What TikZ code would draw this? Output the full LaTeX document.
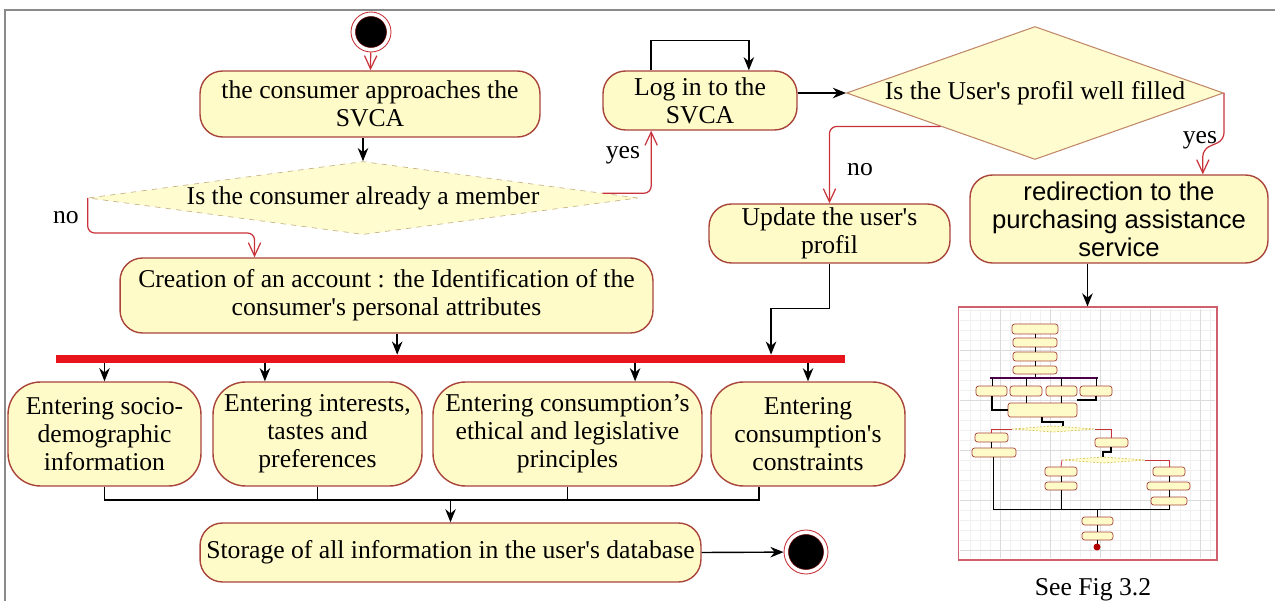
\documentclass[tikz,border=0pt]{standalone}
\usepackage{fontspec}
\setmainfont{Liberation Serif}
\newfontfamily\arialfont{Liberation Sans}
\usetikzlibrary{shapes.geometric,arrows.meta,calc}

\definecolor{boxfill}{HTML}{FFFBC8}
\definecolor{boxline}{HTML}{A8443A}
\definecolor{flowred}{HTML}{C8323A}
\definecolor{barred}{HTML}{E8141B}
\definecolor{dashline}{HTML}{C8B48A}
\definecolor{diafill}{HTML}{FFFCD0}
\definecolor{dialine}{HTML}{C08868}
\definecolor{framegray}{HTML}{8A8A8A}
\definecolor{thumbline}{HTML}{D0606E}
\definecolor{minidash}{HTML}{D4C050}

\newcommand{\ap}{\textquotesingle}

\begin{document}
\begin{tikzpicture}[x=0.02cm,y=-0.02cm,
    every node/.style={font=\fontsize{14.6}{15.9}\selectfont},
    action/.style={draw=boxline,fill=boxfill,line width=0.8pt,
      rounded corners=0.45cm,align=center,inner sep=2pt},
    task/.style={action,rounded corners=0.65cm,minimum height=2.08cm},
    decision/.style={diamond,fill=diafill,inner sep=0pt,align=center},
    flow/.style={line width=0.8pt,-{Stealth[length=7.5pt,width=6pt]}},
    branch/.style={draw=flowred,line width=0.7pt,rounded corners=4pt,
      -{Straight Barb[length=7.5pt,width=7pt]}},
    ring/.style={circle,draw=flowred,fill=white,line width=0.5pt,inner sep=0pt},
    minibox/.style={draw=boxline,fill=boxfill,line width=0.4pt,rounded corners=1.5pt},
    minidia/.style={draw=minidash,fill=diafill,line width=0.4pt,dash pattern=on 1pt off 1pt},
    minilink/.style={line width=0.4pt},
    minired/.style={draw=flowred,line width=0.4pt}]
  \useasboundingbox (0,0) rectangle (1275,601);

  % page frame (top and left edges only)
  \draw[framegray,line width=1.7pt] (5,601) -- (5,10) -- (1275,10);

  % start
  \node[ring,minimum size=0.8cm] (init) at (371,32) {};
  \fill[black,draw=red!40!black,line width=0.3pt] (init.center) circle (0.31cm);
  \node[action,minimum width=6.8cm,minimum height=1.32cm] (approach) at (370,104)
    {the consumer approaches the\\SVCA};
  \draw[branch] (init) -- (approach);

  % membership test
  \node[decision,draw=dashline,dashed,aspect=7.7,minimum width=11cm,minimum height=1.46cm]
    (member) at (363,198) {Is the consumer already a member};
  \draw[flow] (approach.south -| member.north) -- (member.north);

  % login and its loop
  \node[action,minimum width=3.88cm,minimum height=1.18cm] (login) at (700,100.5)
    {Log in to the\\SVCA};
  \draw[branch] ($(member.east)!0.13!(member.north)$) -| ($(login.south west)!0.25!(login.south east)$);
  \node (yes1) at (623,155) {yes};
  \draw[flow] ($(login.north west)!0.25!(login.north east)$) -- ++(0,-30)
    -| ($(login.north west)!0.75!(login.north east)$);

  % profile test
  \node[decision,draw=dialine,line width=0.6pt,aspect=3,minimum width=7.54cm,minimum height=2.66cm]
    (profile) at (1035,93) {Is the User\ap s profil well filled};
  \draw[flow] (profile.west -| login.east) -- (profile.west);

  \node[action,minimum width=4.82cm,minimum height=1.18cm] (update) at (829.5,233.5)
    {Update the user\ap s\\profil};
  \draw[branch] (profile.south west) -| (update.north);
  \node (no2) at (860,170) {no};

  \node[action,font={\arialfont\fontsize{14.6}{15.9}\selectfont},minimum width=5.96cm,minimum height=1.76cm]
    (redirect) at (1119,219) {redirection to the\\purchasing assistance\\service};
  \coordinate (yesin) at ($(redirect.north west)!0.78!(redirect.north east)$);
  \draw[branch] (profile.east) -- ++(0,47) -- ([yshift=0.5cm]yesin) -- (yesin);
  \node (yes2) at (1200,140) {yes};

  % account creation
  \node[action,minimum width=10.66cm,minimum height=1.5cm] (create) at (386.5,295.5)
    {Creation of an account : the Identification of the\\consumer\ap s personal attributes};
  \draw[branch] (member.west) -- ++(0,35) -| ($(create.north west)!0.253!(create.north east)$);
  \node (no1) at (66,218) {no};

  % fork bar
  \node[fill=barred,minimum width=15.78cm,minimum height=0.16cm,inner sep=0pt] (bar) at (450.5,359) {};
  \coordinate (forkin) at ($(create.south west)!0.52!(create.south east)$);
  \draw[flow] (forkin) -- (forkin |- bar.north);
  \coordinate (mergein) at ($(bar.north west)!0.906!(bar.north east)$);
  \draw[flow] (update.south) -- ++(0,45) -| (mergein);

  % parallel entries
  \node[task,minimum width=3.86cm] (socio) at (104.5,434) {Entering socio-\\demographic\\information};
  \node[task,minimum width=4.18cm] (tastes) at (317.5,434) {Entering interests,\\tastes and\\preferences};
  \node[task,minimum width=5.38cm] (ethics) at (567.5,434) {Entering consumption’s\\ethical and legislative\\principles};
  \node[task,minimum width=3.88cm] (constr) at (808,434) {Entering\\consumption\ap s\\constraints};
  \foreach \act/\pos in {socio/0.5,tastes/0.25,ethics/0.75,constr/0.5} {
    \coordinate (in-\act) at ($(\act.north west)!\pos!(\act.north east)$);
    \draw[flow] (bar.south -| in-\act) -- (in-\act);
  }

  % join into storage
  \node[action,minimum width=10.02cm,minimum height=1.18cm] (storage) at (450.5,552.5)
    {Storage of all information in the user\ap s database};
  \coordinate (join) at (451,500);
  \coordinate (out-constr) at ($(constr.south west)!0.25!(constr.south east)$);
  \draw[line width=0.8pt] (socio.south) |- (join -| out-constr) -- (out-constr);
  \draw[line width=0.8pt] (tastes.south) -- (tastes.south |- join);
  \draw[line width=0.8pt] (ethics.south) -- (ethics.south |- join);
  \draw[flow] (storage.north |- join) -- (storage.north);

  % end
  \node[ring,minimum size=0.88cm] (final) at (806,552) {};
  \fill[black,draw=red!40!black,line width=0.3pt] (final.center) circle (0.35cm);
  \draw[flow] (storage.east) -- (final);

  % thumbnail of the purchasing assistance chart
  \node[draw=thumbline,fill=white,line width=0.6pt,minimum width=5.18cm,minimum height=5.06cm,inner sep=0pt]
    (thumb) at (1087.5,433.5) {};
  \draw[gray!12,line width=0.2pt,step=0.2cm] (960,309) grid (1215,558);
  \draw[gray!28,line width=0.3pt,step=1cm] (960,309) grid (1215,558);
  \draw[flow] (redirect.south -| thumb.north) -- (thumb.north);
  \node (seefig) at (1093,590) {See Fig 3.2};

  \foreach \xa/\ya/\xb/\yb in {1012/324/1058/334,1013/338/1057/347,1013/352/1057/361,1013/366/1057/374,
      976/386/1007/396,1010/386/1042/396,1046/386/1077/396,1080/386/1112/396,1008/403/1077/417,
      975/433/1008/442,972/448/1016/457,1095/438/1128/447,
      1045/467/1077/476,1045/482/1077/490,1153/467/1185/476,1147/482/1190/490,1151/497/1187/505,
      1082/517/1113/525,1082/532/1113/540}
    \draw[minibox] (\xa,\ya) rectangle (\xb,\yb);
  \draw[minilink] (1035,334) -- (1035,338) (1035,347) -- (1035,352) (1035,361) -- (1035,366)
    (1035,374) -- (1035,378);
  \draw[violet!60!black,line width=0.8pt] (990,378) -- (1098,378);
  \draw[minilink] (992,378) -- (992,386) (1026,378) -- (1026,386) (1061,378) -- (1061,386)
    (1096,378) -- (1096,386);
  \draw[line width=0.8pt] (992,396) |- (1008,410);
  \draw[minilink] (1026,396) -- (1026,403) (1061,396) -- (1061,403);
  \draw[line width=0.8pt] (1096,396) |- (1077,400);
  \draw[line width=0.8pt] (1042,417) |- (1063,422) -- (1063,426);
  \draw[minidia] (1012,429) -- (1053,426) -- (1095,429) -- (1053,432) -- cycle;
  \draw[minired] (1012,429) -| (991,433);
  \draw[minired] (1095,429) -| (1111,438);
  \draw[minilink] (991,442) -- (991,448);
  \draw[line width=0.6pt] (1111,447) -- (1111,452) -| (1103,457);
  \draw[minidia] (1062,460) -- (1103,457) -- (1145,460) -- (1103,463) -- cycle;
  \draw[minired] (1062,460) -- (1061,467);
  \draw[minired] (1145,460) -| (1169,467);
  \draw[minilink] (1061,476) -- (1061,482) (1169,476) -- (1169,482) (1169,490) -- (1169,497);
  \draw[minilink] (993,457) |- (1169,509) -- (1169,505);
  \draw[minilink] (1061,490) -- (1061,509);
  \draw[minilink] (1097,509) -- (1097,517) (1097,525) -- (1097,532) (1097,540) -- (1097,544);
  \fill[red!70!black] (1097,547) circle (0.07cm);
\end{tikzpicture}
\end{document}
